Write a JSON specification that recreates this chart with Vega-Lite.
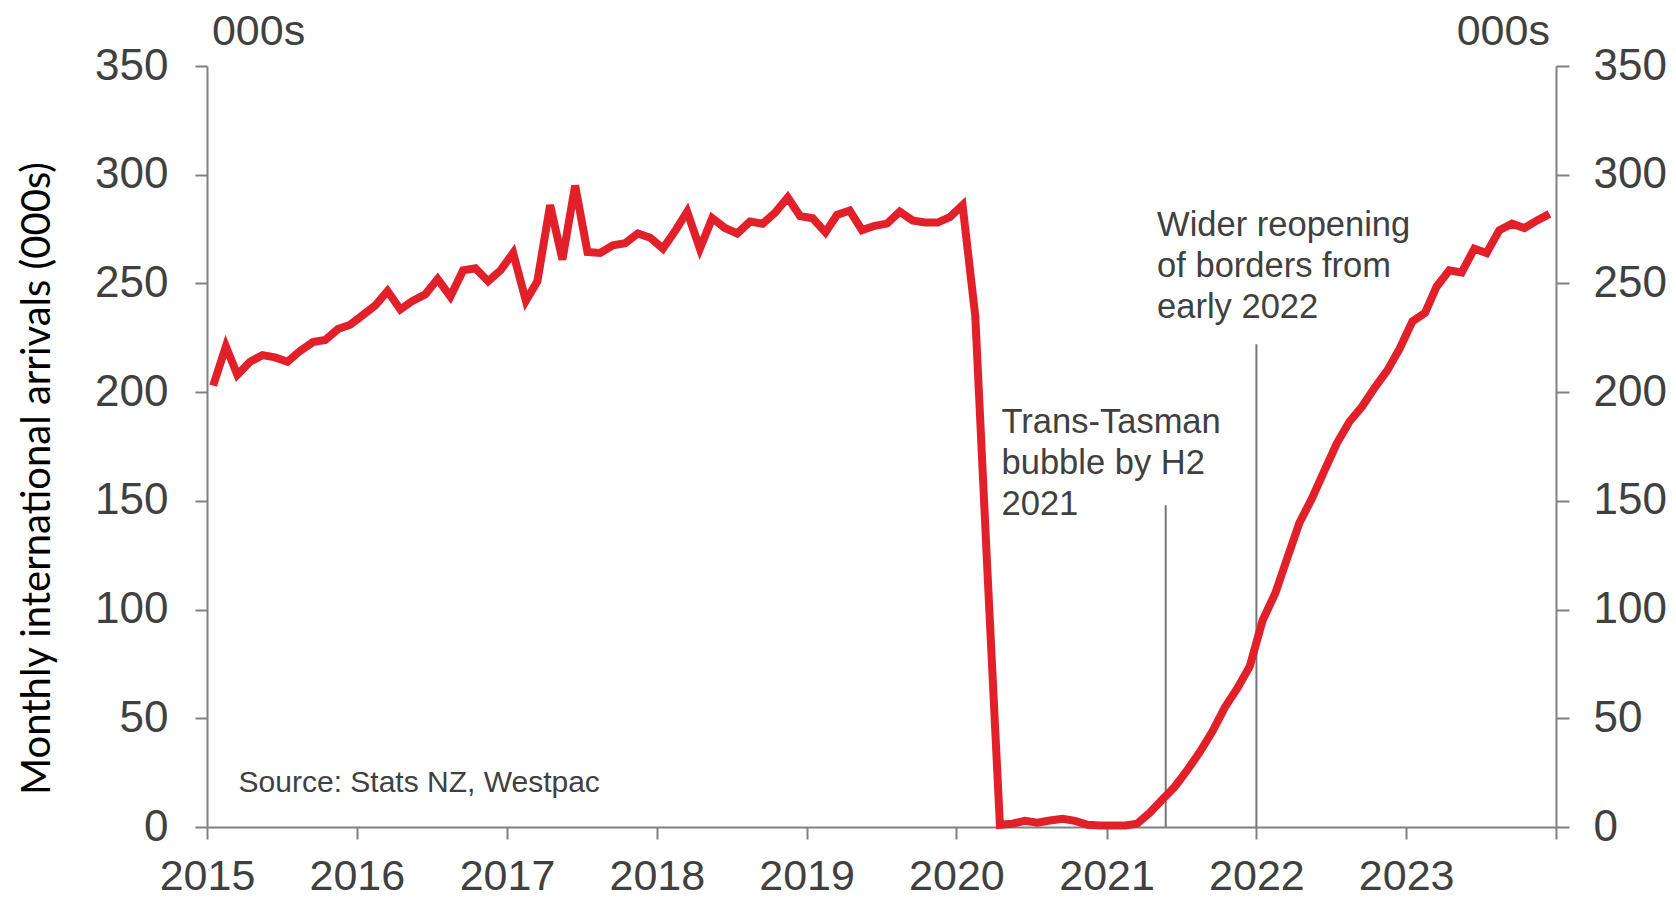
{
  "$schema": "https://vega.github.io/schema/vega-lite/v6.json",
  "width": 1349,
  "height": 761,
  "autosize": "none",
  "padding": {"left": 207, "top": 66, "right": 120, "bottom": 74},
  "background": "white",
  "config": {"view": {"stroke": null}},
  "datasets": {
    "arrivals": [
      {"date": "2015-01-16", "v": 203}, {"date": "2015-02-16", "v": 221}, {"date": "2015-03-16", "v": 208}, {"date": "2015-04-16", "v": 214}, {"date": "2015-05-16", "v": 217}, {"date": "2015-06-16", "v": 216}, {"date": "2015-07-16", "v": 214}, {"date": "2015-08-16", "v": 219}, {"date": "2015-09-16", "v": 223}, {"date": "2015-10-16", "v": 224}, {"date": "2015-11-16", "v": 229}, {"date": "2015-12-16", "v": 231},
      {"date": "2016-01-16", "v": 235.5}, {"date": "2016-02-16", "v": 240}, {"date": "2016-03-16", "v": 246.5}, {"date": "2016-04-16", "v": 238}, {"date": "2016-05-16", "v": 242}, {"date": "2016-06-16", "v": 245}, {"date": "2016-07-16", "v": 252}, {"date": "2016-08-16", "v": 244}, {"date": "2016-09-16", "v": 256}, {"date": "2016-10-16", "v": 257}, {"date": "2016-11-16", "v": 251}, {"date": "2016-12-16", "v": 256},
      {"date": "2017-01-16", "v": 264}, {"date": "2017-02-16", "v": 242}, {"date": "2017-03-16", "v": 251}, {"date": "2017-04-16", "v": 286}, {"date": "2017-05-16", "v": 261}, {"date": "2017-06-16", "v": 295}, {"date": "2017-07-16", "v": 264.5}, {"date": "2017-08-16", "v": 264}, {"date": "2017-09-16", "v": 267.5}, {"date": "2017-10-16", "v": 268.5}, {"date": "2017-11-16", "v": 273}, {"date": "2017-12-16", "v": 271},
      {"date": "2018-01-16", "v": 266}, {"date": "2018-02-16", "v": 274.5}, {"date": "2018-03-16", "v": 283}, {"date": "2018-04-16", "v": 266}, {"date": "2018-05-16", "v": 280}, {"date": "2018-06-16", "v": 275.5}, {"date": "2018-07-16", "v": 273}, {"date": "2018-08-16", "v": 278.5}, {"date": "2018-09-16", "v": 277.5}, {"date": "2018-10-16", "v": 282.5}, {"date": "2018-11-16", "v": 289.5}, {"date": "2018-12-16", "v": 281},
      {"date": "2019-01-16", "v": 280}, {"date": "2019-02-16", "v": 273.5}, {"date": "2019-03-16", "v": 281.5}, {"date": "2019-04-16", "v": 283.5}, {"date": "2019-05-16", "v": 274.5}, {"date": "2019-06-16", "v": 276.5}, {"date": "2019-07-16", "v": 277.5}, {"date": "2019-08-16", "v": 283}, {"date": "2019-09-16", "v": 279}, {"date": "2019-10-16", "v": 278}, {"date": "2019-11-16", "v": 278}, {"date": "2019-12-16", "v": 280.5},
      {"date": "2020-01-16", "v": 286}, {"date": "2020-02-16", "v": 235}, {"date": "2020-03-16", "v": 120}, {"date": "2020-04-16", "v": 1}, {"date": "2020-05-16", "v": 1.5}, {"date": "2020-06-16", "v": 2.8}, {"date": "2020-07-16", "v": 2}, {"date": "2020-08-16", "v": 3}, {"date": "2020-09-16", "v": 3.8}, {"date": "2020-10-16", "v": 2.8}, {"date": "2020-11-16", "v": 1}, {"date": "2020-12-16", "v": 0.7},
      {"date": "2021-01-16", "v": 0.7}, {"date": "2021-02-16", "v": 0.7}, {"date": "2021-03-16", "v": 1.5}, {"date": "2021-04-16", "v": 6.5}, {"date": "2021-05-16", "v": 12.5}, {"date": "2021-06-16", "v": 18.5}, {"date": "2021-07-16", "v": 26}, {"date": "2021-08-16", "v": 34.5}, {"date": "2021-09-16", "v": 44}, {"date": "2021-10-16", "v": 55}, {"date": "2021-11-16", "v": 64}, {"date": "2021-12-16", "v": 74},
      {"date": "2022-01-16", "v": 95}, {"date": "2022-02-16", "v": 107.5}, {"date": "2022-03-16", "v": 123}, {"date": "2022-04-16", "v": 140}, {"date": "2022-05-16", "v": 151}, {"date": "2022-06-16", "v": 164}, {"date": "2022-07-16", "v": 176.5}, {"date": "2022-08-16", "v": 186.5}, {"date": "2022-09-16", "v": 193.5}, {"date": "2022-10-16", "v": 202}, {"date": "2022-11-16", "v": 210}, {"date": "2022-12-16", "v": 220},
      {"date": "2023-01-16", "v": 232.5}, {"date": "2023-02-16", "v": 236.5}, {"date": "2023-03-16", "v": 248.5}, {"date": "2023-04-16", "v": 256}, {"date": "2023-05-16", "v": 255}, {"date": "2023-06-16", "v": 266}, {"date": "2023-07-16", "v": 264}, {"date": "2023-08-16", "v": 274.5}, {"date": "2023-09-16", "v": 277.5}, {"date": "2023-10-16", "v": 275.5}, {"date": "2023-11-16", "v": 279}, {"date": "2023-12-16", "v": 282}
    ],
    "events": [
      {"date": "2021-05-25", "bottom": 0, "top": 148},
      {"date": "2022-01-01", "bottom": 0, "top": 222}
    ],
    "notes": [
      {"date": "2020-04-20", "v": 181, "text": "Trans-Tasman\nbubble by H2\n2021"},
      {"date": "2021-05-04", "v": 272, "text": "Wider reopening\nof borders from\nearly 2022"}
    ],
    "source": [
      {"date": "2015-03-19", "v": 16, "text": "Source: Stats NZ, Westpac"}
    ],
    "units": [
      {"date": "2015-01-13", "v": 359.5, "text": "000s"},
      {"date": "2023-05-04", "v": 359.5, "text": "000s"}
    ]
  },
  "resolve": {"scale": {"y": "independent"}},
  "layer": [
    {
      "data": {"name": "events"},
      "mark": {"type": "rule", "color": "#767676", "strokeWidth": 2},
      "encoding": {
        "x": {"field": "date", "type": "temporal", "scale": {"domain": ["2015-01-01", "2024-01-01"]},
          "axis": {"title": null, "grid": false, "tickCount": {"interval": "year", "step": 1},
            "labelExpr": "year(datum.value) == 2024 ? '' : timeFormat(datum.value, '%Y')",
            "domainColor": "#808080", "domainWidth": 2, "tickColor": "#808080", "tickWidth": 2, "tickSize": 12,
            "labelFont": "Liberation Sans", "labelFontSize": 43, "labelColor": "#404040", "labelPadding": 16,
            "labelFlush": false, "labelOverlap": false}},
        "y": {"field": "bottom", "type": "quantitative", "scale": {"domain": [0, 350], "nice": false},
          "axis": {"orient": "right", "values": [0, 50, 100, 150, 200, 250, 300, 350], "title": null, "grid": false,
            "domainColor": "#808080", "domainWidth": 2, "tickColor": "#808080", "tickWidth": 2, "tickSize": 13,
            "labelFont": "Liberation Sans", "labelFontSize": 44, "labelColor": "#404040", "labelPadding": 24,
            "labelBaseline": "middle", "labelFlush": false, "labelOverlap": false}},
        "y2": {"field": "top"}
      }
    },
    {
      "data": {"name": "arrivals"},
      "mark": {"type": "line", "color": "#e2202a", "strokeWidth": 8},
      "encoding": {
        "x": {"field": "date", "type": "temporal", "scale": {"domain": ["2015-01-01", "2024-01-01"]},
          "axis": {"title": null, "grid": false, "tickCount": {"interval": "year", "step": 1},
            "labelExpr": "year(datum.value) == 2024 ? '' : timeFormat(datum.value, '%Y')",
            "domainColor": "#808080", "domainWidth": 2, "tickColor": "#808080", "tickWidth": 2, "tickSize": 12,
            "labelFont": "Liberation Sans", "labelFontSize": 43, "labelColor": "#404040", "labelPadding": 16,
            "labelFlush": false, "labelOverlap": false}},
        "y": {"field": "v", "type": "quantitative", "scale": {"domain": [0, 350], "nice": false},
          "axis": {"orient": "left", "values": [0, 50, 100, 150, 200, 250, 300, 350], "grid": false,
            "title": "Monthly international arrivals (000s)", "titleFont": "Lato", "titleFontSize": 40,
            "titleFontWeight": "normal", "titleColor": "#000000", "titleAngle": -90, "titleX": -170, "titleY": 412,
            "titleAlign": "center", "titleBaseline": "middle",
            "domainColor": "#808080", "domainWidth": 2, "tickColor": "#808080", "tickWidth": 2, "tickSize": 12,
            "labelFont": "Liberation Sans", "labelFontSize": 44, "labelColor": "#404040", "labelPadding": 27,
            "labelBaseline": "middle", "labelFlush": false, "labelOverlap": false}}
      }
    },
    {
      "data": {"name": "notes"},
      "mark": {"type": "text", "align": "left", "baseline": "alphabetic", "font": "Liberation Sans", "fontSize": 34.5, "color": "#404040", "lineBreak": "\n", "lineHeight": 41},
      "encoding": {
        "x": {"field": "date", "type": "temporal"},
        "y": {"field": "v", "type": "quantitative", "scale": {"domain": [0, 350], "nice": false}, "axis": null},
        "text": {"field": "text"}
      }
    },
    {
      "data": {"name": "source"},
      "mark": {"type": "text", "align": "left", "baseline": "alphabetic", "font": "Liberation Sans", "fontSize": 30, "color": "#404040"},
      "encoding": {
        "x": {"field": "date", "type": "temporal"},
        "y": {"field": "v", "type": "quantitative", "scale": {"domain": [0, 350], "nice": false}, "axis": null},
        "text": {"field": "text"}
      }
    },
    {
      "data": {"name": "units"},
      "mark": {"type": "text", "align": "left", "baseline": "alphabetic", "font": "Liberation Sans", "fontSize": 43, "color": "#404040"},
      "encoding": {
        "x": {"field": "date", "type": "temporal"},
        "y": {"field": "v", "type": "quantitative", "scale": {"domain": [0, 350], "nice": false}, "axis": null},
        "text": {"field": "text"}
      }
    }
  ]
}
